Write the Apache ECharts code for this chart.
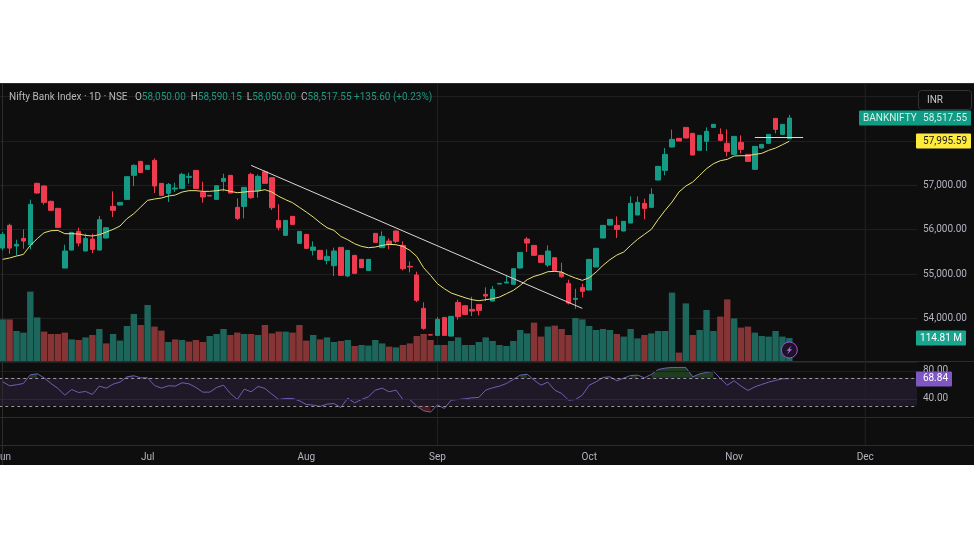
<!DOCTYPE html>
<html lang="en">
<head>
    <meta charset="utf-8">
    <title>Nifty Bank Index</title>
    <script src="https://cdn.jsdelivr.net/npm/echarts@6/dist/echarts.min.js"></script>
    <style>
        html, body { margin: 0; background: #fff; }
        #main { position: absolute; left: 0; top: 83px; width: 974px; height: 382px; background: #0e0e0e; }
    </style>
</head>
<body>
<div id="main"></div>
<script type="text/javascript">
    // bars on the time axis, past the last candle the axis runs empty up to Dec
    const barCount = 133;
    const monthLabels = { 0: 'Jun', 21: 'Jul', 44: 'Aug', 63: 'Sep', 85: 'Oct', 106: 'Nov', 125: 'Dec' };
    const monthLines = [63, 125];

    // [open, close, low, high]
    const candles = [
        [55586,55895,55534,55947],[56098,55586,55458,56135],[55631,55669,55421,55774],[55804,55744,55571,56007],
        [55661,56571,55556,56677],[57045,56827,56812,57060],[56985,56616,56564,57000],[56639,56436,56425,56655],
        [56481,56052,56040,56495],[55135,55519,55135,55661],[55541,55940,55535,55950],[55962,55699,55624,56045],
        [55519,55804,55515,55910],[55789,55556,55473,55910],[55541,56225,55535,56308],[55812,56045,55805,56050],
        [56526,56436,56286,56865],[56556,56616,56550,56620],[56684,57196,56680,57200],[57226,57451,56985,57474],
        [57541,57293,57285,57550],[57361,57451,57355,57455],[57564,56985,56827,57609],[57045,56774,56765,57050],
        [56820,57023,56624,57053],[56917,56940,56850,57060],[56932,57248,56925,57286],[57180,57203,57038,57286],
        [57338,56932,56925,57345],[56842,56737,56609,57083],[56774,56759,56755,56778],[56684,56992,56680,57000],
        [57090,57158,56865,57263],[57226,56827,56820,57235],[56504,56256,56218,56707],[56526,56955,56256,56960],
        [57248,56722,56699,57286],[56880,57203,56722,57248],[57308,57045,57040,57338],[57173,56496,56444,57180],
        [56210,56045,55985,56571],[55872,56210,55865,56215],[56301,56120,56115,56305],[55692,55962,55685,55965],
        [55895,55579,55575,55900],[55534,55609,55421,55737],[55534,55331,55325,55540],[55308,55398,55218,55556],
        [55188,55519,54955,55594],[55601,54970,54960,55610],[54955,55534,54932,55540],[55421,55015,55010,55425],
        [55331,55143,55138,55335],[55082,55331,55078,55335],[55917,55714,55710,55922],[55594,55849,55590,55962],
        [55744,55669,55556,55804],[55970,55737,55699,55985],[55646,55120,55082,55737],[55173,55158,55037,55285],
        [54977,54406,54368,55052],[54225,53774,53744,54360],[53631,53624,53620,53635],[53616,53977,53610,54030],
        [54022,53616,53610,54027],[53601,54045,53595,54050],[54360,54037,53969,54421],[54285,54090,54085,54290],
        [54203,54165,54052,54488],[54315,54180,54067,54320],[54541,54503,54391,54699],[54391,54654,54383,54729],
        [54774,54789,54770,54792],[54797,54819,54797,54970],[54767,55120,54762,55125],[55135,55488,55130,55492],
        [55789,55699,55496,55834],[55646,55421,55415,55650],[55421,55263,55258,55425],[55203,55519,55158,55646],
        [55368,55082,55078,55372],[55037,54940,54917,55255],[54789,54345,54315,54872],[54428,54451,54218,54669],
        [54699,54609,54473,54782],[54639,55331,54635,55335],[55158,55579,55155,55594],[55812,56098,55808,56102],
        [56105,56233,56100,56238],[56098,56007,55812,56301],[55970,56188,55966,56192],[56150,56594,56146,56752],
        [56331,56616,56327,56752],[56594,56481,56233,56699],[56504,56797,56489,56932],[57120,57429,57116,57433],
        [57338,57699,57226,57842],[57865,58038,57861,58256],[58060,58000,57996,58064],[58308,58068,58064,58312],
        [58173,57684,57680,58177],[57790,58128,57786,58132],[57993,58218,57775,58308],[58308,58376,58304,58380],
        [58150,58015,57993,58286],[57948,57767,57654,58263],[57699,58105,57695,58109],[57970,57812,57722,58128],
        [57699,57541,57537,57703],[57361,57880,57357,57884],[57842,57925,57838,57929],[57948,58150,57944,58154],
        [58511,58263,58173,58515],[58150,58376,58146,58380],[58050,58517.55,58050,58590.15]
    ];

    const maValues = [
        55331,55361,55406,55443,55646,55797,55932,55977,55985,55910,55910,55902,55872,55857,55887,55947,
        56007,56083,56248,56361,56511,56662,56692,56714,56759,56782,56850,56880,56880,56865,56865,56880,
        56902,56865,56835,56850,56865,56872,56902,56850,56752,56677,56609,56504,56398,56286,56158,56045,
        55985,55849,55774,55684,55624,55594,55609,55646,55669,55661,55624,55534,55398,55143,54970,54782,
        54669,54571,54518,54466,54421,54398,54421,54443,54481,54556,54631,54744,54872,54947,54992,55052,
        55060,55045,54970,54909,54857,54917,55045,55195,55323,55428,55496,55646,55782,55895,56007,56233,
        56436,56624,56850,56985,57075,57226,57376,57489,57556,57587,57662,57669,57669,57699,57722,57790,
        57842,57917,57995.59
    ];

    // volume in millions
    const volumes = [
        208,208,150,142,347,218,147,135,135,142,108,105,118,130,160,88,135,102,175,235,180,280,172,152,
        95,108,105,97,105,95,125,135,160,130,142,135,135,130,180,138,147,147,142,180,102,130,108,118,
        95,100,105,75,80,77,105,88,72,68,80,88,125,135,105,80,80,100,118,80,80,95,118,100,80,75,100,
        155,138,192,122,172,177,160,130,215,208,175,155,160,155,135,122,160,113,130,138,150,150,342,
        42,288,130,155,255,150,222,308,213,167,172,142,125,122,150,122,114.81
    ];
    // 1 = teal bar, 0 = red bar, as seen in the volume pane
    const volumeUp = [
        1,0,1,1,1,1,0,0,0,0,1,0,1,0,1,0,1,1,1,1,0,1,0,0,1,0,1,0,0,0,1,1,1,0,0,1,0,1,0,0,0,1,0,0,0,1,0,1,
        1,0,1,0,1,1,1,1,0,1,0,0,0,0,0,1,0,1,1,1,1,1,1,1,1,1,1,1,1,0,0,1,0,0,0,1,1,1,1,1,1,0,1,1,1,0,1,1,
        1,1,0,1,0,1,1,1,0,0,1,0,0,1,1,1,1,1,1
    ];

    const rsiValues = [
        64.3,58.6,60,61.9,74.3,75.7,70,61.9,54.8,45.2,53.3,49,50.5,46.2,58.1,55.2,61,63.8,71.4,72.9,70,70,59,55.2,
        58.6,58.1,62.9,61.4,56.2,49.5,49.5,56.2,59.5,47.6,39,53.8,50,57.6,54.8,46.7,39,40.5,40.5,37.2,31.9,31,29.1,32.4,
        33.3,27.6,41,34.3,39,42.9,52.4,55.2,50,52.4,39,39,29.5,22.9,21,31.4,26.2,38.1,39,40,41.4,41.9,52.4,55.7,
        58.1,61.9,67.6,73.8,75.2,66.7,59.5,63.8,52.4,47.6,38.1,39,45.2,59.5,64.3,70.5,71.4,65.7,69.5,73.3,73.8,70,
        74.8,81.9,83.8,84.8,84.8,84.8,71.4,75.7,77.6,79.5,69,59.5,65.7,58.1,51.9,57.1,60.5,63.8,66.2,68.6,68.84
    ];

    const priceTicks = [54000, 55000, 56000, 57000];
    const rsiTicks = [40, 80];
    const trendLine = [[36, 57451], [84, 54225]];
    const flatLine = [[109, 58076], [116, 58076]];

    const lastClose = 58517.55, lastMa = 57995.59, lastVolume = 114.81, lastRsi = 68.84;

    const UP = '#159b85', DOWN = '#ef3b4f', VOL_UP = '#1d665c', VOL_DOWN = '#863536';
    const FONT = 'Roboto';
    const TICK = '#b2b5be';
    const GRID = '#1f1f1f';

    const categories = Array.from({ length: barCount }, (_, i) => i);

    function baseX(gridIndex, extra) {
        return Object.assign({
            type: 'category', gridIndex: gridIndex, data: categories, boundaryGap: true,
            axisLine: { show: false }, axisTick: { show: false }, axisLabel: { show: false }, splitLine: { show: false }
        }, extra || {});
    }

    // labels are allowed past the canvas edge, Jun is cut off like in the original
    function pane(top, height) {
        return { left: -0.75, width: 917.75, top: top, height: height, outerBoundsMode: 'none', containLabel: false };
    }

    let chart = echarts.init(document.getElementById('main'));
    chart.setOption({
        animation: false,
        backgroundColor: '#0e0e0e',
        textStyle: { fontFamily: FONT },
        title: {
            left: 9, top: 9, padding: 0,
            text: '{n|Nifty Bank Index · 1D · NSE   O}{v|58,050.00}{n|  H}{v|58,590.15}{n|  L}{v|58,050.00}{n|  C}{v|58,517.55 +135.60 (+0.23%)}',
            textStyle: {
                fontWeight: 'normal',
                rich: {
                    n: { color: '#b8b8b8', fontSize: 10, fontFamily: FONT, fontWeight: 'normal' },
                    v: { color: '#1b9a82', fontSize: 10, fontFamily: FONT, fontWeight: 'normal' }
                }
            }
        },
        grid: [pane(13.7, 266), pane(198, 80), pane(278, 56), pane(334, 28)],
        xAxis: [
            baseX(0), baseX(1), baseX(2),
            baseX(3, {
                axisLabel: {
                    show: true, interval: 0, margin: 7, color: TICK, fontSize: 10, fontFamily: FONT,
                    hideOverlap: false,
                    formatter: v => monthLabels[v] || ''
                }
            })
        ],
        yAxis: [
            {
                gridIndex: 0, position: 'right', min: 53000, max: 59000, interval: 1000,
                axisLine: { show: false }, axisTick: { show: false },
                splitLine: { lineStyle: { color: GRID, width: 1 } },
                axisLabel: {
                    margin: 6, color: TICK, fontSize: 10, fontFamily: FONT,
                    formatter: v => priceTicks.includes(v) ? v.toLocaleString('en-US', { minimumFractionDigits: 2 }) : ''
                }
            },
            { gridIndex: 1, min: 0, max: 400, show: false },
            {
                gridIndex: 2, position: 'right', min: 14, max: 94, interval: 10,
                axisLine: { show: false }, axisTick: { show: false }, splitLine: { show: false },
                axisLabel: {
                    margin: 6, color: TICK, fontSize: 10, fontFamily: FONT, customValues: rsiTicks,
                    formatter: v => v.toFixed(2)
                }
            },
            { gridIndex: 3, show: false }
        ],
        series: [
            {
                name: 'Volume', type: 'bar', xAxisIndex: 1, yAxisIndex: 1, barWidth: 6.4, silent: true,
                data: volumes.map((v, i) => ({ value: v, itemStyle: { color: volumeUp[i] ? VOL_UP : VOL_DOWN } }))
            },
            {
                name: 'BANKNIFTY', type: 'candlestick', xAxisIndex: 0, yAxisIndex: 0, barWidth: 5, z: 3,
                data: candles,
                itemStyle: { color: UP, color0: DOWN, borderColor: UP, borderColor0: DOWN, borderWidth: 1 },
                markLine: {
                    silent: true, symbol: 'none', animation: false, label: { show: false },
                    lineStyle: { color: '#d8d8d8', width: 1, type: 'solid' },
                    data: [
                        [{ coord: trendLine[0] }, { coord: trendLine[1] }],
                        [{ coord: flatLine[0] }, { coord: flatLine[1] }]
                    ]
                }
            },
            {
                name: 'MA', type: 'line', xAxisIndex: 0, yAxisIndex: 0, data: maValues, z: 4,
                showSymbol: false, silent: true, lineStyle: { color: '#e8e27a', width: 1 }
            },
            {
                name: 'RSI', type: 'line', xAxisIndex: 2, yAxisIndex: 2, data: rsiValues, z: 4,
                showSymbol: false, silent: true, lineStyle: { color: '#6f5fb5', width: 1 },
                markArea: {
                    silent: true, itemStyle: { color: 'rgba(126,87,194,0.14)' },
                    data: [[{ yAxis: 70 }, { yAxis: 30 }]]
                },
                markLine: {
                    silent: true, symbol: 'none', animation: false, label: { show: false },
                    data: [
                        { yAxis: 70, lineStyle: { color: '#9a9a9a', type: [3, 3], width: 1 } },
                        { yAxis: 30, lineStyle: { color: '#9a9a9a', type: [3, 3], width: 1 } },
                        { yAxis: 80, lineStyle: { color: GRID, type: 'solid', width: 1 } },
                        { yAxis: 40, lineStyle: { color: '#2a2a2a', type: 'solid', width: 1 } }
                    ]
                }
            },
            {
                name: 'RSI overbought', type: 'line', xAxisIndex: 2, yAxisIndex: 2, silent: true, showSymbol: false,
                lineStyle: { width: 0 }, areaStyle: { origin: 70, color: 'rgba(76,175,80,0.4)' },
                data: rsiValues.map(v => v > 70 ? v : null)
            },
            {
                name: 'RSI oversold', type: 'line', xAxisIndex: 2, yAxisIndex: 2, silent: true, showSymbol: false,
                lineStyle: { width: 0 }, areaStyle: { origin: 30, color: 'rgba(242,54,69,0.4)' },
                data: rsiValues.map(v => v < 30 ? v : null)
            }
        ]
    });

    // chrome and price tags, placed from the axes once they exist
    const ROW = 83;
    const priceY = v => chart.convertToPixel({ yAxisIndex: 0 }, v);
    const volY = v => chart.convertToPixel({ yAxisIndex: 1 }, v);
    const rsiY = v => chart.convertToPixel({ yAxisIndex: 2 }, v);
    const barX = i => chart.convertToPixel({ xAxisIndex: 0 }, i);

    function tag(x, w, yc, fill, color, label) {
        return [
            { type: 'rect', z: 20, shape: { x: x, y: Math.round(yc) - 7.5, width: w, height: 15, r: 1 }, style: { fill: fill } },
            { type: 'text', z: 21, style: { x: x + w - 4, y: yc, text: label, fill: color, font: '10px ' + FONT, align: 'right', verticalAlign: 'middle' } }
        ];
    }

    function separator(y) {
        return { type: 'line', z: 1, shape: { x1: 0, y1: y - ROW, x2: 974, y2: y - ROW }, style: { stroke: '#2d2d2d', lineWidth: 1 } };
    }

    function monthLine(i) {
        let x = barX(i);
        return { type: 'line', z: 1, shape: { x1: x, y1: 0, x2: x, y2: 362 }, style: { stroke: '#232323', lineWidth: 1 } };
    }

    const iconX = barX(candles.length - 1);
    const iconY = 267;
    chart.setOption({
        graphic: [
            separator(361.5), separator(417.5), separator(445.5),
            ...monthLines.map(monthLine),
            { type: 'line', z: 1, shape: { x1: 0, y1: 0.5, x2: 974, y2: 0.5 }, style: { stroke: '#2d2d2d', lineWidth: 1 } },
            { type: 'line', z: 1, shape: { x1: 2.5, y1: 0, x2: 2.5, y2: 382 }, style: { stroke: '#2d2d2d', lineWidth: 1 } },
            { type: 'rect', z: 20, shape: { x: 918.5, y: 7.5, width: 53, height: 19, r: 3 }, style: { fill: '#0e0e0e', stroke: '#333', lineWidth: 1 } },
            { type: 'text', z: 21, style: { x: 927, y: 17, text: 'INR', fill: '#c8c8c8', font: '10px ' + FONT, verticalAlign: 'middle' } },
            ...tag(859, 112, priceY(lastClose), '#0f9b84', '#d8f0ea', lastClose.toLocaleString('en-US')),
            { type: 'text', z: 21, style: { x: 863, y: priceY(lastClose), text: 'BANKNIFTY', fill: '#d8f0ea', font: '10px ' + FONT, verticalAlign: 'middle' } },
            ...tag(916, 55, priceY(lastMa), '#ffeb3b', '#1a1a1a', lastMa.toLocaleString('en-US')),
            ...tag(916, 50, volY(lastVolume), '#1aa58f', '#ffffff', lastVolume + ' M'),
            ...tag(916, 36, rsiY(lastRsi), '#7e57c2', '#ffffff', lastRsi.toFixed(2)),
            { type: 'circle', z: 20, shape: { cx: iconX, cy: iconY, r: 8 }, style: { fill: '#1c1426', stroke: '#a94fd6', lineWidth: 1 } },
            {
                type: 'polygon', z: 21,
                shape: { points: [[iconX + 2.2, iconY - 4.5], [iconX - 2.8, iconY + 0.8], [iconX - 0.3, iconY + 0.8], [iconX - 2.2, iconY + 4.5], [iconX + 2.8, iconY - 0.8], [iconX + 0.3, iconY - 0.8]] },
                style: { fill: '#b06ae0' }
            }
        ]
    });
</script>
</body>
</html>
